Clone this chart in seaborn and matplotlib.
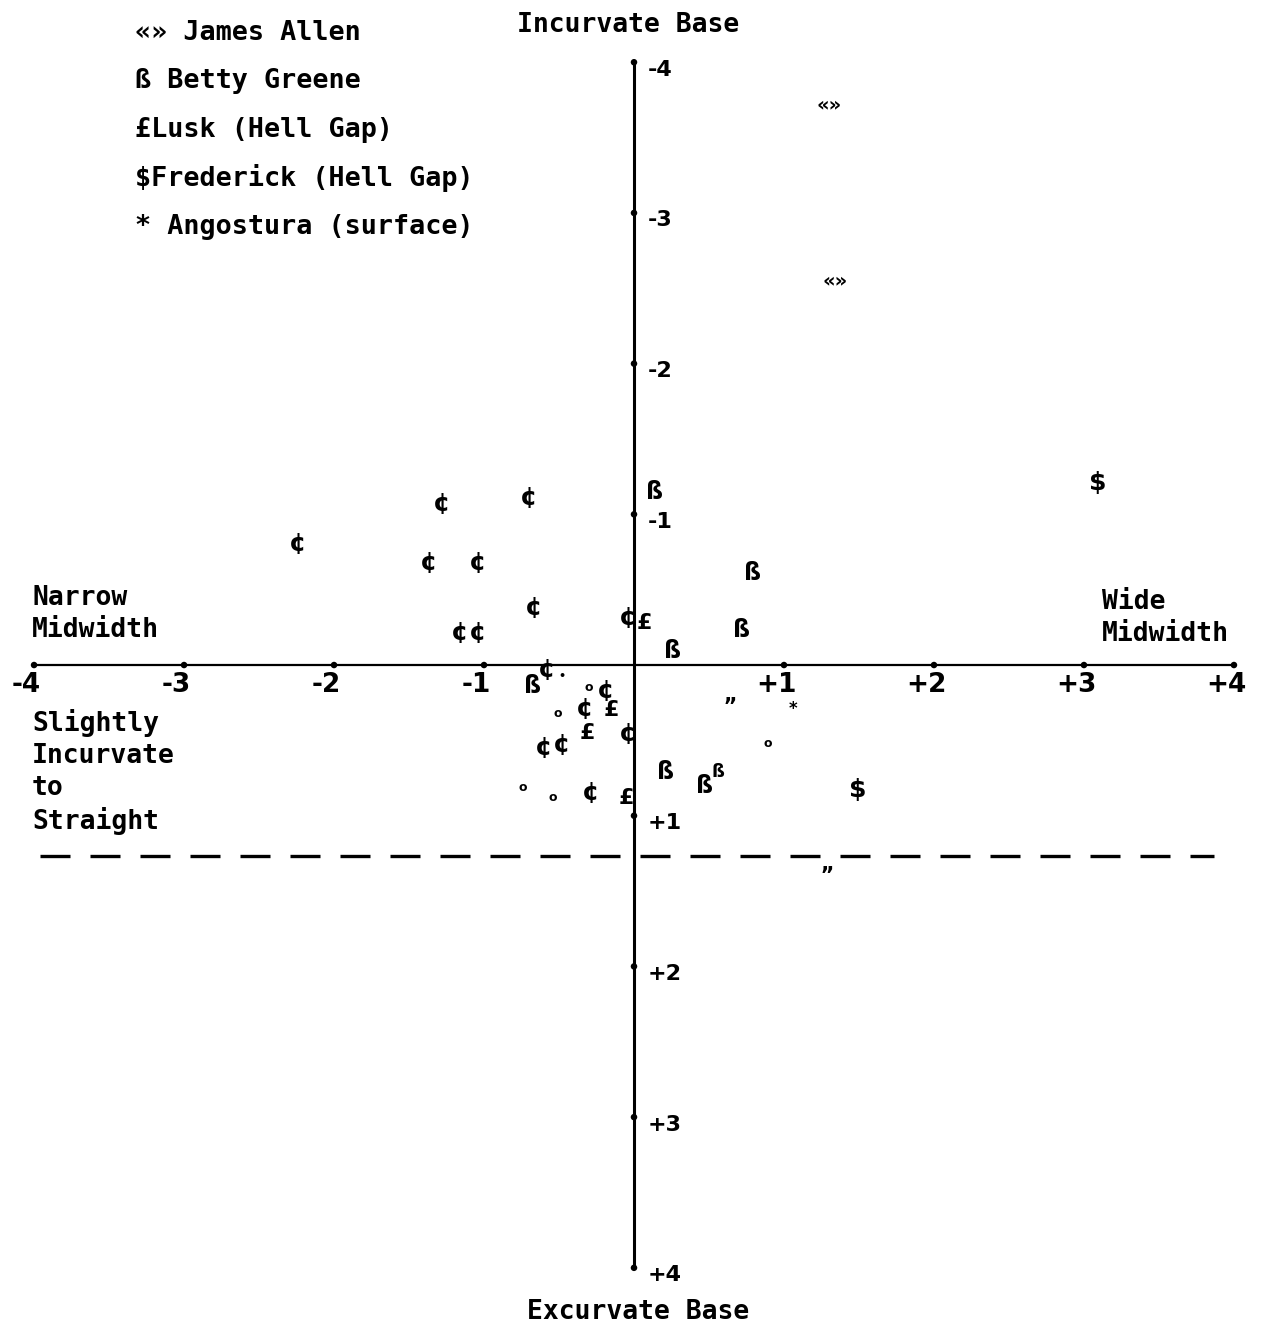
"""
Base shape vs. midwidth scatter of projectile point types.
Each point is drawn as a typed glyph, as in the original figure.
"""

import pandas as pd
import seaborn as sns
from matplotlib import pyplot as plt

# --- data (x = midwidth, y = base curvature; negative y = incurvate) ---
allen_x = [1.30, 1.34]
allen_y = [-3.72, -2.55]

greene_x = [0.14, 0.79, 0.72, 0.26, -0.68, 0.21, 0.47]
greene_y = [-1.15, -0.61, -0.23, -0.09, 0.14, 0.71, 0.80]
greene_sup_x = [0.56]
greene_sup_y = [0.71]

lusk_x = [0.07, -0.15, -0.31, -0.05]
lusk_y = [-0.28, 0.30, 0.45, 0.88]

frederick_x = [3.09, 1.49]
frederick_y = [-1.21, 0.83]

angostura_x = [1.06]
angostura_y = [0.29]

cent_x = [-2.24, -1.28, -0.70, -1.37, -1.04, -0.67, -1.16, -1.04,
          -0.58, -0.04, -0.19, -0.33, -0.04, -0.60, -0.48, -0.29]
cent_y = [-0.80, -1.07, -1.11, -0.68, -0.68, -0.38, -0.21, -0.21,
          0.03, -0.31, 0.17, 0.29, 0.46, 0.55, 0.53, 0.85]

ring_x = [-0.30, -0.51, -0.74, -0.54, 0.89]
ring_y = [0.15, 0.32, 0.81, 0.88, 0.52]

quote_x = [0.64, 1.29]
quote_y = [0.20, 1.32]

dot_x = [-0.48]
dot_y = [0.07]

ticks = [-4, -3, -2, -1, 1, 2, 3, 4]
x_tick_labels = ['-4', '-3', '-2', '-1', '+1', '+2', '+3', '+4']
y_tick_labels = ['-4', '-3', '-2', '-1', '+1', '+2', '+3', '+4']
boundary_y = 1.27

legend_labels = ['«» James Allen', 'ß Betty Greene', '£Lusk (Hell Gap)',
                 '$Frederick (Hell Gap)', '* Angostura (surface)']

MONO = 'DejaVu Sans Mono'
SANS = 'DejaVu Sans'


def draw_axes(ax):
    """Cross-shaped axes through the origin with dotted tick marks."""
    ax.plot([-4, 4], [0, 0], color='black', lw=1.6)
    ax.plot([0, 0], [-4, 4], color='black', lw=2.2)
    ax.plot([-3.96, 3.87], [boundary_y, boundary_y], color='black', lw=2.4,
            dashes=(9, 6))

    tick_df = pd.DataFrame({
        'x': ticks + [0] * len(ticks),
        'y': [0] * len(ticks) + ticks,
    })
    sns.scatterplot(data=tick_df, x='x', y='y', ax=ax, color='black',
                    s=22, edgecolor='none', legend=False)

    for t, lab in zip(ticks, x_tick_labels):
        ax.text(t - 0.05, 0.13, lab, ha='center', va='center',
                fontsize=19, fontweight='bold', family=SANS)
    for t, lab in zip(ticks, y_tick_labels):
        ax.text(0.09, t + 0.05, lab, ha='left', va='center',
                fontsize=16, fontweight='bold', family=SANS)


def draw_glyphs(ax, xs, ys, glyph, size):
    for x, y in zip(xs, ys):
        ax.text(x, y, glyph, ha='center', va='center', fontsize=size,
                fontweight='bold', family=SANS, parse_math=False)


def main():
    sns.set_style('white')
    plt.rcParams['text.color'] = 'black'
    fig = plt.figure(figsize=(12.65, 13.29), dpi=100)
    ax = fig.add_axes([0, 0, 1, 1])
    ax.set_xlim(-4.227, 4.207)
    ax.set_ylim(4.406, -4.413)
    ax.axis('off')

    draw_axes(ax)

    draw_glyphs(ax, allen_x, allen_y, '«»', 14)
    draw_glyphs(ax, greene_x, greene_y, 'ß', 17)
    draw_glyphs(ax, greene_sup_x, greene_sup_y, 'ß', 13)
    draw_glyphs(ax, lusk_x, lusk_y, '£', 16)
    draw_glyphs(ax, frederick_x, frederick_y, '$', 18)
    draw_glyphs(ax, angostura_x, angostura_y, '*', 12)
    draw_glyphs(ax, cent_x, cent_y, '¢', 18)
    draw_glyphs(ax, ring_x, ring_y, 'o', 9)
    draw_glyphs(ax, quote_x, quote_y, '„', 15)
    draw_glyphs(ax, dot_x, dot_y, '•', 8)

    # legend block, top left
    for i, lab in enumerate(legend_labels):
        fig.text(135 / 1265, 1 - (33 + 48.5 * i) / 1329, lab, ha='left',
                 va='center', fontsize=19.3, fontweight='bold', family=MONO,
                 parse_math=False)

    # region labels
    label_kw = dict(fontsize=19, fontweight='bold', family=MONO)
    fig.text(628 / 1265, 1 - 25 / 1329, 'Incurvate Base', ha='center',
             va='center', **label_kw)
    fig.text(638 / 1265, 1 - 1312 / 1329, 'Excurvate Base', ha='center',
             va='center', **label_kw)
    fig.text(32 / 1265, 1 - 614 / 1329, 'Narrow\nMidwidth', ha='left',
             va='center', linespacing=1.3, **label_kw)
    fig.text(1102 / 1265, 1 - 618 / 1329, 'Wide\nMidwidth', ha='left',
             va='center', linespacing=1.3, **label_kw)
    fig.text(32 / 1265, 1 - 772 / 1329,
             'Slightly\nIncurvate\nto\nStraight', ha='left', va='center',
             linespacing=1.3, **label_kw)

    fig.savefig('out.png', dpi=100)


if __name__ == '__main__':
    main()
